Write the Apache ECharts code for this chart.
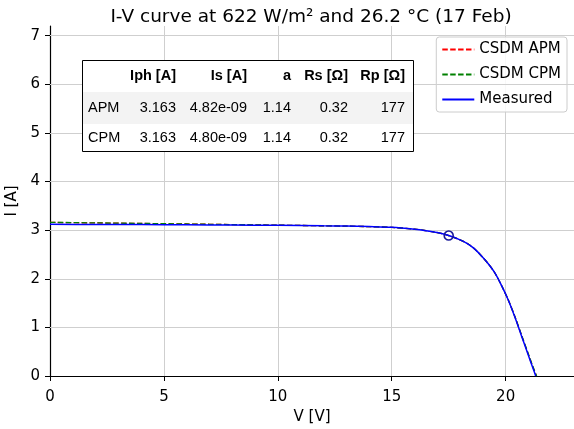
<!DOCTYPE html>
<html>
<head>
<meta charset="utf-8">
<script src="https://cdn.jsdelivr.net/npm/echarts@6/dist/echarts.min.js"></script>
<style>html,body{margin:0;padding:0;background:#fff;}#c{width:574px;height:429px;}</style>
</head>
<body>
<div id="c"></div>
<script>
// ---- data ----
const titleText = 'I-V curve at 622 W/m² and 26.2 °C (17 Feb)';
const xName = 'V [V]';
const yName = 'I [A]';
const yGridValues = [1, 2, 3, 4, 5, 6, 7];

const V_meas = [0, 2, 4, 6, 8, 10, 12, 13, 14, 15, 16, 16.5, 17, 17.5, 18, 18.3, 18.6, 18.9, 19.2, 19.5, 19.8, 20.1, 20.4, 20.7, 21.0, 21.2, 21.32];
const I_meas = [3.12, 3.118, 3.115, 3.11, 3.105, 3.10, 3.09, 3.085, 3.075, 3.06, 3.02, 2.99, 2.95, 2.89, 2.80, 2.73, 2.63, 2.49, 2.33, 2.14, 1.88, 1.58, 1.22, 0.82, 0.42, 0.16, 0.0];

const V_apm = [0, 2, 4, 6, 8, 10, 12, 13, 14, 15, 16, 16.5, 17, 17.5, 18, 18.3, 18.6, 18.9, 19.2, 19.5, 19.8, 20.1, 20.4, 20.7, 21.0, 21.2, 21.35];
const I_apm = [3.160, 3.149, 3.138, 3.127, 3.115, 3.103, 3.09, 3.083, 3.073, 3.057, 3.02, 2.99, 2.95, 2.89, 2.80, 2.73, 2.63, 2.49, 2.33, 2.14, 1.88, 1.58, 1.23, 0.83, 0.44, 0.18, 0.0];

const V_cpm = [0, 2, 4, 6, 8, 10, 12, 13, 14, 15, 16, 16.5, 17, 17.5, 18, 18.3, 18.6, 18.9, 19.2, 19.5, 19.8, 20.1, 20.4, 20.7, 21.0, 21.2, 21.36];
const I_cpm = [3.161, 3.150, 3.139, 3.127, 3.115, 3.103, 3.09, 3.083, 3.073, 3.057, 3.02, 2.99, 2.95, 2.89, 2.80, 2.73, 2.63, 2.49, 2.33, 2.14, 1.88, 1.58, 1.23, 0.84, 0.45, 0.19, 0.0];

const mppPoint = [17.5, 2.89];

const tableHeader = ['', 'Iph [A]', 'Is [A]', 'a', 'Rs [Ω]', 'Rp [Ω]'];
const tableRows = [
  ['APM', '3.163', '4.82e-09', '1.14', '0.32', '177'],
  ['CPM', '3.163', '4.80e-09', '1.14', '0.32', '177']
];

// ---- build ----
const zip = (a, b) => a.map((v, i) => [v, b[i]]);
const FONT = 'DejaVu Sans';

const tblX = 82.5, tblY = 60.5, tblW = 331, tblH = 91;
const rowTops = [60.5, 92, 124];
const rowH = [31.5, 32, 27.5];
const colRight = [null, 176, 247, 291, 348, 405];
const tableEls = [];
tableEls.push({type: 'rect', shape: {x: tblX, y: tblY, width: tblW, height: tblH}, style: {fill: '#ffffff', stroke: 'none'}, z: 100});
tableEls.push({type: 'rect', shape: {x: tblX, y: rowTops[1], width: tblW, height: rowH[1]}, style: {fill: '#f3f3f3'}, z: 101});
tableEls.push({type: 'rect', shape: {x: tblX, y: tblY, width: tblW, height: tblH}, style: {fill: 'none', stroke: '#000', lineWidth: 1}, z: 103});
const allRows = [tableHeader].concat(tableRows);
allRows.forEach((row, r) => {
  const cy = rowTops[r] + rowH[r] / 2;
  row.forEach((cell, c) => {
    if (!cell) return;
    const isLabel = c === 0;
    tableEls.push({
      type: 'text', z: 104,
      x: isLabel ? 88 : colRight[c], y: cy,
      style: {
        text: cell, fill: '#000',
        font: (r === 0 ? 'bold ' : '') + '14.5px "Liberation Sans", Arial, sans-serif',
        align: isLabel ? 'left' : 'right', verticalAlign: 'middle'
      }
    });
  });
});

const chart = echarts.init(document.getElementById('c'), null, {renderer: 'canvas'});
chart.setOption({
  animation: false,
  backgroundColor: '#fff',
  grid: {left: 50, right: 0, top: 26, bottom: 53, containLabel: false, outerBoundsMode: 'none'},
  xAxis: {
    type: 'value', min: 0, max: 23, interval: 5,
    name: xName, nameLocation: 'middle', nameGap: 31,
    nameTextStyle: {fontFamily: FONT, fontSize: 15, color: '#000'},
    axisLine: {show: true, onZero: false, lineStyle: {color: '#000', width: 1.2}},
    axisTick: {show: true, length: 5, lineStyle: {color: '#000'}},
    axisLabel: {fontFamily: FONT, fontSize: 15, color: '#000', margin: 14, showMaxLabel: false},
    splitLine: {show: true, lineStyle: {color: '#cfcfcf', width: 1}}
  },
  yAxis: {
    type: 'value', min: 0, max: 7.2, interval: 1,
    name: yName, nameLocation: 'middle', nameGap: 30,
    nameTextStyle: {fontFamily: FONT, fontSize: 15, color: '#000'},
    axisLine: {show: true, onZero: false, lineStyle: {color: '#000', width: 1.2}},
    axisTick: {show: true, length: 5, lineStyle: {color: '#000'}},
    axisLabel: {fontFamily: FONT, fontSize: 15, color: '#000', margin: 10, showMaxLabel: false},
    splitLine: {show: false}
  },
  legend: {
    data: [
      {name: 'CSDM APM', itemStyle: {opacity: 0}},
      {name: 'CSDM CPM', itemStyle: {opacity: 0}},
      {name: 'Measured', itemStyle: {opacity: 0}}
    ],
    orient: 'vertical', right: 7, top: 37,
    itemWidth: 32, itemHeight: 14, itemGap: 10,
    padding: [5, 6, 5, 5],
    backgroundColor: 'rgba(255,255,255,0.85)',
    borderColor: '#cccccc', borderWidth: 1, borderRadius: 3,
    textStyle: {fontFamily: FONT, fontSize: 15, color: '#000'}
  },
  series: [
    {
      name: '_grid', type: 'line', data: [], silent: true, z: 1,
      markLine: {
        silent: true, symbol: ['none', 'none'], label: {show: false},
        lineStyle: {color: '#cfcfcf', width: 1, type: 'solid'},
        data: yGridValues.map(v => ({yAxis: v}))
      }
    },
    {
      name: 'CSDM APM', type: 'line', data: zip(V_apm, I_apm), symbol: 'none', smooth: 0.3,
      lineStyle: {color: '#ff0000', width: 1.3, type: [5.5, 2.4]}, itemStyle: {color: '#ff0000'}, z: 3
    },
    {
      name: 'CSDM CPM', type: 'line', data: zip(V_cpm, I_cpm), symbol: 'none', smooth: 0.3,
      lineStyle: {color: '#008000', width: 1.3, type: [5.5, 2.4]}, itemStyle: {color: '#008000'}, z: 4
    },
    {
      name: 'Measured', type: 'line', data: zip(V_meas, I_meas), symbol: 'none', smooth: 0.3,
      lineStyle: {color: '#0000ff', width: 1.5}, itemStyle: {color: '#0000ff'}, z: 5
    },
    {
      name: 'MPP', type: 'scatter', data: [mppPoint], symbol: 'circle', symbolSize: 9,
      itemStyle: {color: 'rgba(0,0,0,0)', borderColor: '#1a1a9a', borderWidth: 1.6, opacity: 1}, z: 6
    }
  ],
  graphic: [
    {type: 'text', x: 311, y: 17, z: 100,
     style: {text: titleText, font: '18.5px "DejaVu Sans"', fill: '#000', align: 'center', verticalAlign: 'middle'}}
  ].concat(tableEls)
});
</script>
</body>
</html>
